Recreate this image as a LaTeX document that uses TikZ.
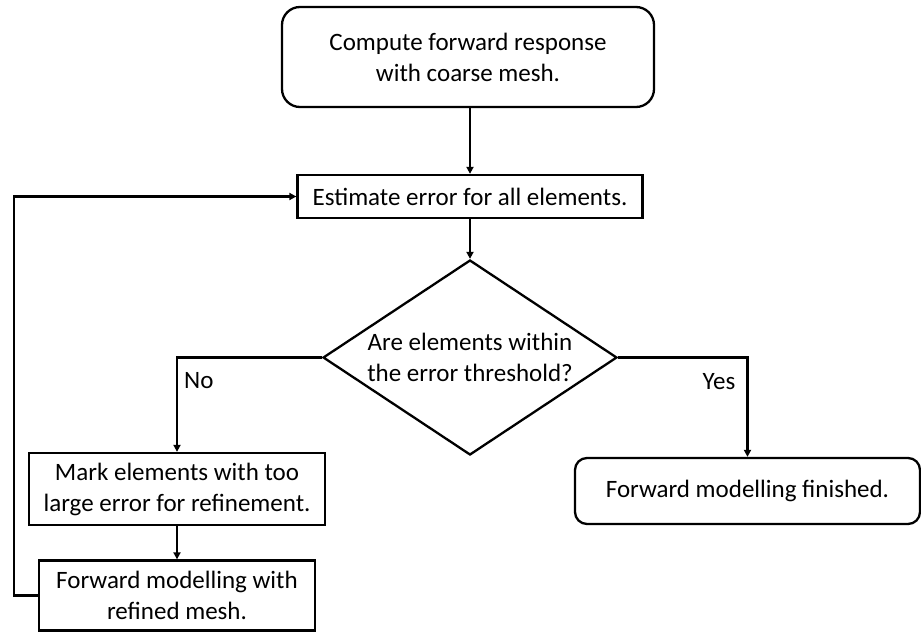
\documentclass[tikz,border=0pt]{standalone}
\usepackage{fontspec}
\setmainfont{Carlito}
\usetikzlibrary{shapes.geometric,arrows.meta}
\begin{document}
\begin{tikzpicture}[x=1pt,y=-1pt,
  every node/.style={font=\fontsize{25}{31}\selectfont, align=center, inner sep=0pt},
  box/.style={draw, line width=2.3pt, minimum width=#1, fill=white},
  rbox/.style={draw, line width=2.3pt, rounded corners=18pt},
  decision/.style={draw, line width=2.3pt, diamond, aspect=1.51, minimum width=294pt, minimum height=195pt},
  conn/.style={line width=2.3pt, -{Triangle[length=7pt,width=7pt]}},
  lbl/.style={anchor=west}
]
\useasboundingbox (0,0) rectangle (921,632);
\node[rbox, minimum width=372pt, minimum height=100pt] (top) at (468,57) {Compute forward response\\with coarse mesh.};
\node[box=345pt, minimum height=43pt] (est) at (470,196.5) {Estimate error for all elements.};
\node[decision] (dia) at (470,357.5) {Are elements within\\the error threshold?};
\node[box=296pt, minimum height=72pt] (mark) at (177,489) {Mark elements with too\\large error for refinement.};
\node[box=276pt, minimum height=70pt] (fwd) at (177,595.5) {Forward modelling with\\refined mesh.};
\node[rbox, rounded corners=12pt, minimum width=345pt, minimum height=66pt] (fin) at (747.5,491) {Forward modelling finished.};
\coordinate (loop) at (14,595.5);
\draw[conn] (top.south -| est.north) -- (est.north);
\draw[conn] (est.south) -- (dia.north);
\draw[conn] (dia.west) -| (mark.north) node[pos=0.62, lbl, xshift=6pt] (no) {No};
\draw[conn] (mark.south) -- (fwd.north);
\draw[conn] (fwd.west) -- (loop) |- (est.west);
\draw[conn] (dia.east) -| (fin.north) node[pos=0.62, lbl, xshift=-46pt] (yes) {Yes};
\end{tikzpicture}
\end{document}
